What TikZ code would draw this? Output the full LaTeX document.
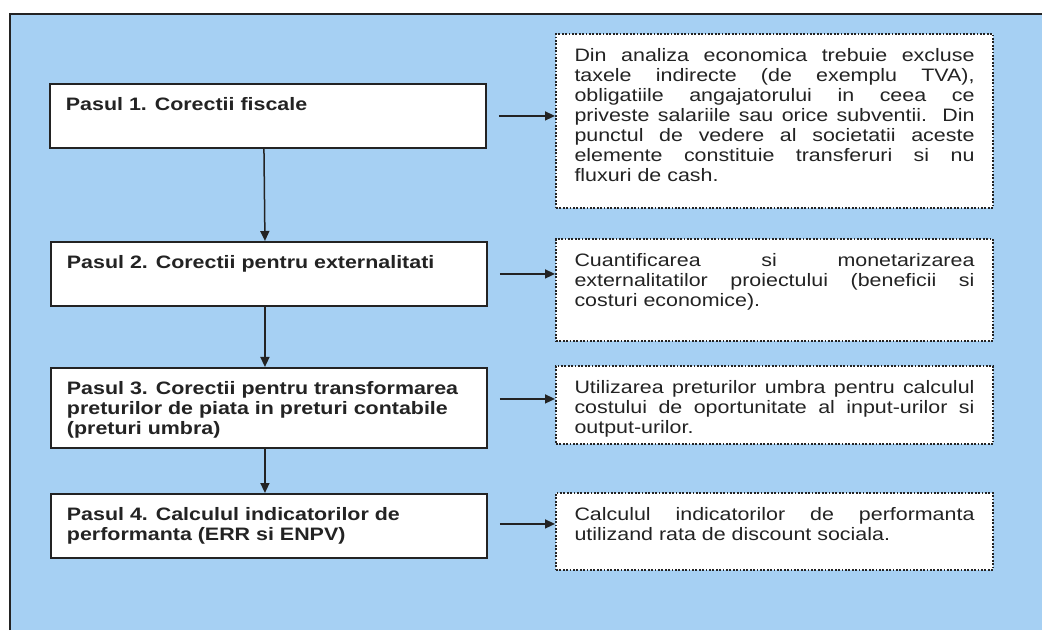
\documentclass[tikz,border=0pt]{standalone}
\usepackage{fontspec}
\setmainfont{Liberation Sans}[FakeStretch=1.19]
\usetikzlibrary{arrows.meta}
\definecolor{bgblue}{RGB}{166,208,243}
\definecolor{ink}{RGB}{35,35,35}
\hyphenpenalty=10000
\exhyphenpenalty=10000
\tolerance=10000
\begin{document}
\begin{tikzpicture}[x=1pt,y=1pt,
  stepbox/.style={draw=ink, line width=1.9pt, fill=white, anchor=north west,
    inner xsep=16pt, inner ysep=14pt, minimum width=436pt,
    font=\bfseries\fontsize{18}{20}\selectfont, text=ink},
  notebox/.style={draw=ink, line width=2pt, dash pattern=on 1.8pt off 1.6pt,
    fill=white, anchor=north west, inner xsep=18pt, inner ysep=14pt,
    minimum width=437pt, font=\fontsize{18}{20}\selectfont, text=ink},
  arr/.style={draw=ink, line width=1.5pt, -{Triangle[length=10pt,width=9pt]}}
]
\useasboundingbox (0,0) rectangle (1042,630);
\fill[white] (0,0) rectangle (1042,630);
\fill[bgblue] (10,0) rectangle (1042,616);
\draw[ink, line width=2pt] (10,0) -- (10,616) -- (1042,616);

\node[stepbox] (b1) at (49,547) {\parbox[t][36pt][t]{404pt}{\raggedright Pasul 1. Corectii fiscale}};
\node[stepbox] (b2) at (50,389) {\parbox[t][36pt][t]{404pt}{\raggedright Pasul 2. Corectii pentru externalitati}};
\node[stepbox] (b3) at (50,263) {\parbox[t][52pt][t]{404pt}{\raggedright Pasul 3. Corectii pentru transformarea\\ preturilor de piata in preturi contabile\\ (preturi umbra)}};
\node[stepbox] (b4) at (50,137) {\parbox[t][36pt][t]{404pt}{\raggedright Pasul 4. Calculul indicatorilor de\\ performanta (ERR si ENPV)}};

\node[notebox] (r1) at (555,597) {\parbox[t][146pt][t]{400pt}{Din analiza economica trebuie excluse\linebreak taxele indirecte (de exemplu TVA),\linebreak obligatiile angajatorului in ceea ce\linebreak priveste salariile sau orice subventii. Din\linebreak punctul de vedere al societatii aceste\linebreak elemente constituie transferuri si nu\linebreak fluxuri de cash.}};
\node[notebox] (r2) at (555,392) {\parbox[t][74pt][t]{400pt}{Cuantificarea si monetarizarea\linebreak externalitatilor proiectului (beneficii si\linebreak costuri economice).}};
\node[notebox] (r3) at (555,265) {\parbox[t][50pt][t]{400pt}{Utilizarea preturilor umbra pentru calculul\linebreak costului de oportunitate al input-urilor si\linebreak output-urilor.}};
\node[notebox] (r4) at (555,138) {\parbox[t][49pt][t]{400pt}{Calculul indicatorilor de performanta\linebreak utilizand rata de discount sociala.}};

\draw[arr] ([xshift=-4pt]b1.south) -- ([xshift=-4pt]b2.north);
\draw[arr] ([xshift=-4pt]b2.south) -- ([xshift=-4pt]b3.north);
\draw[arr] ([xshift=-4pt]b3.south) -- ([xshift=-4pt]b4.north);

\coordinate (a1) at ([xshift=12pt]b1.east);
\coordinate (a2) at ([xshift=12pt]b2.east);
\coordinate (a3) at ([xshift=12pt,yshift=9pt]b3.east);
\coordinate (a4) at ([xshift=12pt,yshift=2pt]b4.east);
\draw[arr] (a1) -- (a1 -| r1.west);
\draw[arr] (a2) -- (a2 -| r2.west);
\draw[arr] (a3) -- (a3 -| r3.west);
\draw[arr] (a4) -- (a4 -| r4.west);
\end{tikzpicture}
\end{document}
